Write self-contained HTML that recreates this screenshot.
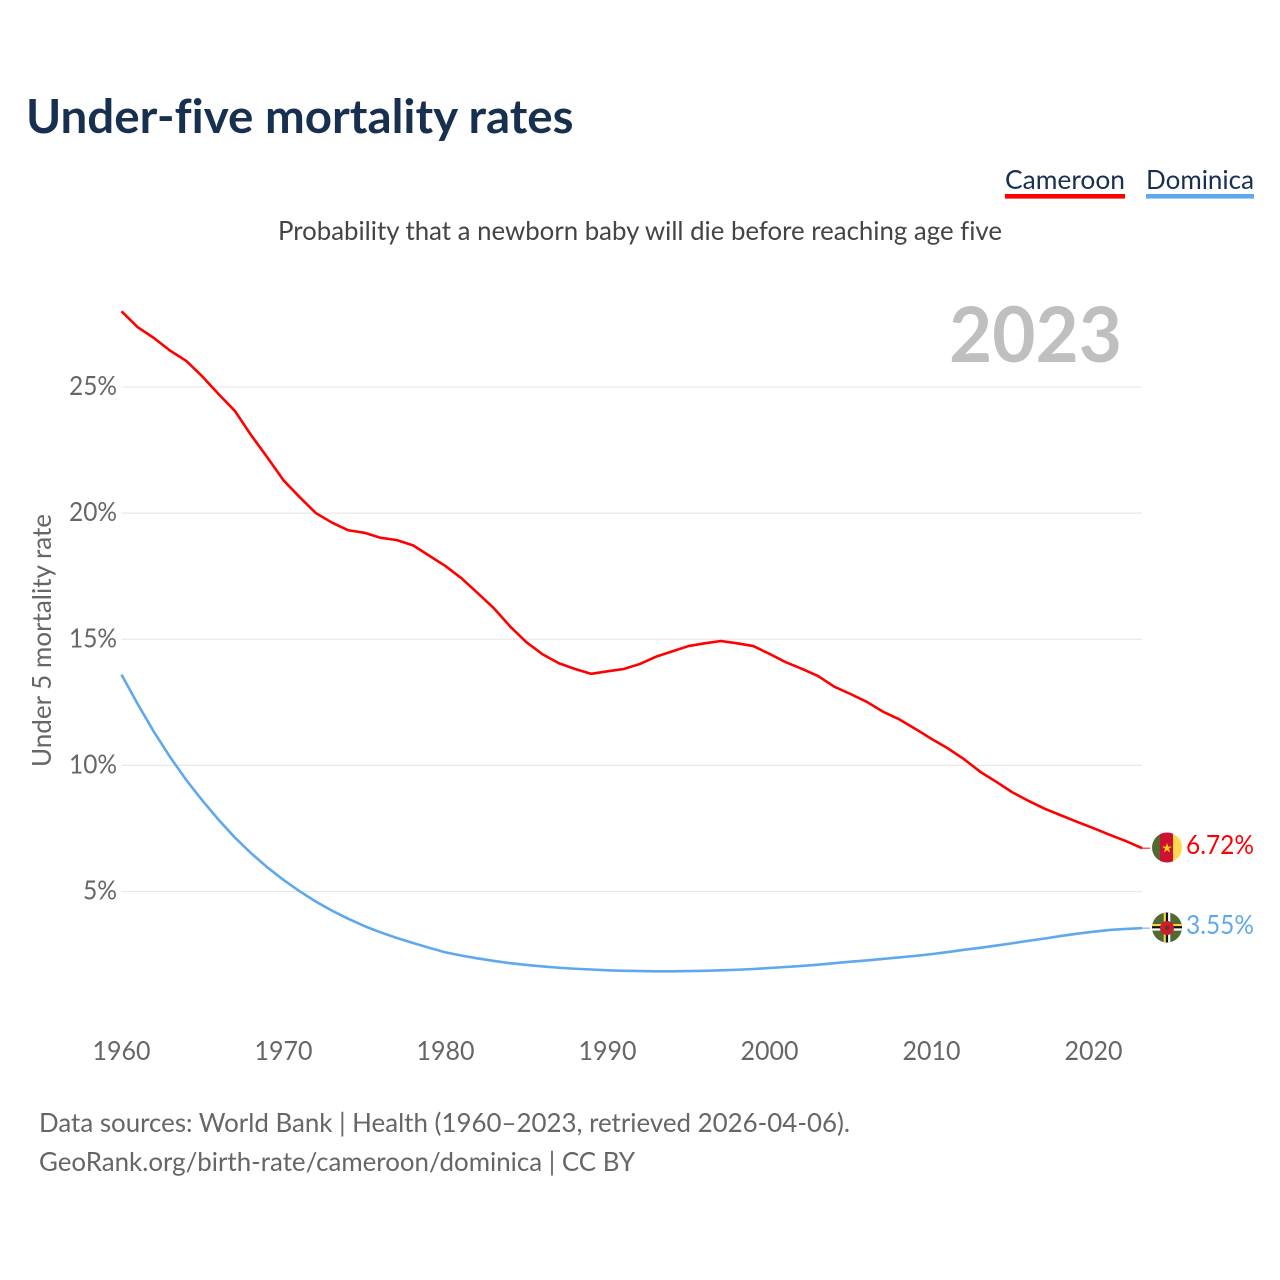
<!DOCTYPE html>
<html lang="en">
<head>
<meta charset="utf-8">
<title>Under-five mortality rates</title>
<style>
html,body{margin:0;padding:0;background:#fff;width:1280px;height:1280px;overflow:hidden}
svg{display:block}
text{font-family:"Lato","Carlito","Liberation Sans",sans-serif;font-variant-ligatures:none}
</style>
</head>
<body>
<svg id="chart" width="1280" height="1280" viewBox="0 0 1280 1280" xmlns="http://www.w3.org/2000/svg">
  <defs>
    <clipPath id="clip-cm"><circle cx="1167" cy="847.5" r="15"/></clipPath>
    <clipPath id="clip-dm"><circle cx="1167" cy="927.5" r="15"/></clipPath>
  </defs>
  <rect width="1280" height="1280" fill="#fff"/>
  <text x="26" y="133" font-size="47" font-weight="700" fill="#18304f" textLength="547.5" lengthAdjust="spacingAndGlyphs">Under-five mortality rates</text>
  <g>
    <text x="1005" y="189" font-size="26" fill="#18304f" textLength="120" lengthAdjust="spacingAndGlyphs">Cameroon</text>
    <rect x="1005" y="194" width="120" height="4.6" fill="#ff0000"/>
  </g>
  <g>
    <text x="1146" y="189" font-size="26" fill="#18304f" textLength="108" lengthAdjust="spacingAndGlyphs">Dominica</text>
    <rect x="1146" y="194" width="108" height="4.6" fill="#5fa8ee"/>
  </g>
  <text x="278" y="240" font-size="26" fill="#444" textLength="724" lengthAdjust="spacingAndGlyphs">Probability that a newborn baby will die before reaching age five</text>
  <text x="949" y="362" font-size="77" font-weight="700" fill="#bfbfbf" textLength="173" lengthAdjust="spacingAndGlyphs">2023</text>
  <text transform="translate(51 767) rotate(-90)" font-size="26" fill="#666" textLength="253" lengthAdjust="spacingAndGlyphs">Under 5 mortality rate</text>
  <g id="grid"></g>
  <g id="yticks"></g>
  <g id="xticks"></g>
  <g id="series"></g>

  <g clip-path="url(#clip-cm)">
    <rect x="1152" y="832" width="10" height="31" fill="#4f6b32"/>
    <rect x="1160" y="832" width="13.5" height="31" fill="#ce1130"/>
    <rect x="1173" y="832" width="10" height="31" fill="#ffd84f"/>
    <polygon points="1167,843 1168.2,846.6 1172,846.6 1168.9,848.8 1170.1,852.4 1167,850.2 1163.9,852.4 1165.1,848.8 1162,846.6 1165.8,846.6" fill="#fcd116"/>
  </g>
  <g clip-path="url(#clip-dm)">
    <rect x="1152" y="912" width="30" height="31" fill="#4f6b32"/>
    <rect x="1152" y="924" width="30" height="2.2" fill="#f4d54a"/>
    <rect x="1152" y="926.2" width="30" height="2.2" fill="#111"/>
    <rect x="1152" y="928.4" width="30" height="2.2" fill="#fff"/>
    <rect x="1163.7" y="912" width="2.2" height="31" fill="#f4d54a"/>
    <rect x="1165.9" y="912" width="2.2" height="31" fill="#111"/>
    <rect x="1168.1" y="912" width="2.2" height="31" fill="#fff"/>
    <circle cx="1167" cy="928" r="7" fill="#d01c2e"/>
    <circle cx="1167" cy="928" r="2.4" fill="#5c3a2a"/>
  </g>
  <text x="39" y="1132" font-size="26" fill="#666" textLength="811" lengthAdjust="spacingAndGlyphs">Data sources: World Bank | Health (1960–2023, retrieved 2026-04-06).</text>
  <text x="39" y="1171" font-size="26" fill="#666" textLength="596" lengthAdjust="spacingAndGlyphs">GeoRank.org/birth-rate/cameroon/dominica | CC BY</text>
</svg>
<script>
const years = [1960,1961,1962,1963,1964,1965,1966,1967,1968,1969,1970,1971,1972,1973,1974,1975,1976,1977,1978,1979,1980,1981,1982,1983,1984,1985,1986,1987,1988,1989,1990,1991,1992,1993,1994,1995,1996,1997,1998,1999,2000,2001,2002,2003,2004,2005,2006,2007,2008,2009,2010,2011,2012,2013,2014,2015,2016,2017,2018,2019,2020,2021,2022,2023];
const cameroon = [28.0,27.37,26.94,26.44,26.03,25.41,24.71,24.05,23.09,22.21,21.3,20.63,20.0,19.62,19.32,19.22,19.02,18.93,18.72,18.31,17.9,17.41,16.82,16.22,15.5,14.88,14.4,14.05,13.82,13.63,13.73,13.82,14.02,14.31,14.52,14.73,14.84,14.93,14.84,14.73,14.42,14.09,13.83,13.54,13.12,12.83,12.52,12.13,11.83,11.45,11.05,10.68,10.25,9.75,9.35,8.93,8.59,8.28,8.02,7.76,7.51,7.25,7.0,6.72];
const dominica = [13.6,12.43,11.33,10.33,9.42,8.6,7.84,7.14,6.52,5.96,5.46,5.01,4.6,4.24,3.92,3.63,3.38,3.16,2.96,2.77,2.59,2.46,2.35,2.25,2.16,2.09,2.03,1.98,1.94,1.91,1.88,1.86,1.85,1.84,1.84,1.85,1.86,1.88,1.9,1.93,1.97,2.01,2.05,2.1,2.16,2.22,2.27,2.33,2.39,2.45,2.52,2.6,2.69,2.77,2.86,2.95,3.05,3.14,3.24,3.33,3.41,3.48,3.52,3.55];
const yTickValues = [5,10,15,20,25];
const xTickValues = [1960,1970,1980,1990,2000,2010,2020];
const lastValueLabels = ["6.72%","3.55%"];

const NS = "http://www.w3.org/2000/svg";
function xScale(year){ return 121.5 + (year - 1960) * 16.2; }
function yScale(value){ return 1017.7 - value * 25.23; }
function make(tag, attrs, parent){
  const el = document.createElementNS(NS, tag);
  for (const k in attrs) el.setAttribute(k, attrs[k]);
  parent.appendChild(el);
  return el;
}
const grid = document.getElementById("grid");
const yticks = document.getElementById("yticks");
const xticks = document.getElementById("xticks");
const series = document.getElementById("series");
const root = document.getElementById("chart");

yTickValues.forEach(function(v){
  const gl = make("line", {x1:121.5, x2:1142, y1:yScale(v), y2:yScale(v), stroke:"#e8e8e8", "stroke-width":1.2}, grid);
  
  
  const label = v + "%";
  const t = make("text", {x:117, y:yScale(v)+8, "text-anchor":"end", "font-size":26, fill:"#666", textLength:label.length === 2 ? 34 : 48, lengthAdjust:"spacingAndGlyphs"}, yticks);
  
  
  t.textContent = label;
});
xTickValues.forEach(function(y){
  const t = make("text", {x:xScale(y), y:1060, "text-anchor":"middle", "font-size":26, fill:"#666", textLength:58, lengthAdjust:"spacingAndGlyphs"}, xticks);
  
  
  t.textContent = y;
});
function pathFor(values){
  return values.map(function(v,i){ return (i ? "L" : "M") + xScale(years[i]).toFixed(2) + " " + yScale(v).toFixed(2); }).join("");
}
const camLine = make("path", {d:pathFor(cameroon), fill:"none", stroke:"#ff0000", "stroke-width":2.6, "stroke-linejoin":"round"}, series);


const domLine = make("path", {d:pathFor(dominica), fill:"none", stroke:"#5fa8ee", "stroke-width":2.6, "stroke-linejoin":"round"}, series);



const lastX = xScale(years[years.length-1]);
const camEnd = yScale(cameroon[cameroon.length-1]);
const domEnd = yScale(dominica[dominica.length-1]);
const camLead = make("line", {x1:lastX, x2:lastX+8, y1:camEnd, y2:camEnd, stroke:"#ff0000", "stroke-width":1}, series);


const domLead = make("line", {x1:lastX, x2:lastX+8, y1:domEnd, y2:domEnd, stroke:"#5fa8ee", "stroke-width":1}, series);



const camLabel = make("text", {x:1186, y:camEnd+6, "font-size":26, fill:"#ff0000", textLength:68, lengthAdjust:"spacingAndGlyphs"}, root);


camLabel.textContent = lastValueLabels[0];
const domLabel = make("text", {x:1186, y:domEnd+6, "font-size":26, fill:"#5fa8ee", textLength:68, lengthAdjust:"spacingAndGlyphs"}, root);


domLabel.textContent = lastValueLabels[1];
</script>
</body>
</html>
